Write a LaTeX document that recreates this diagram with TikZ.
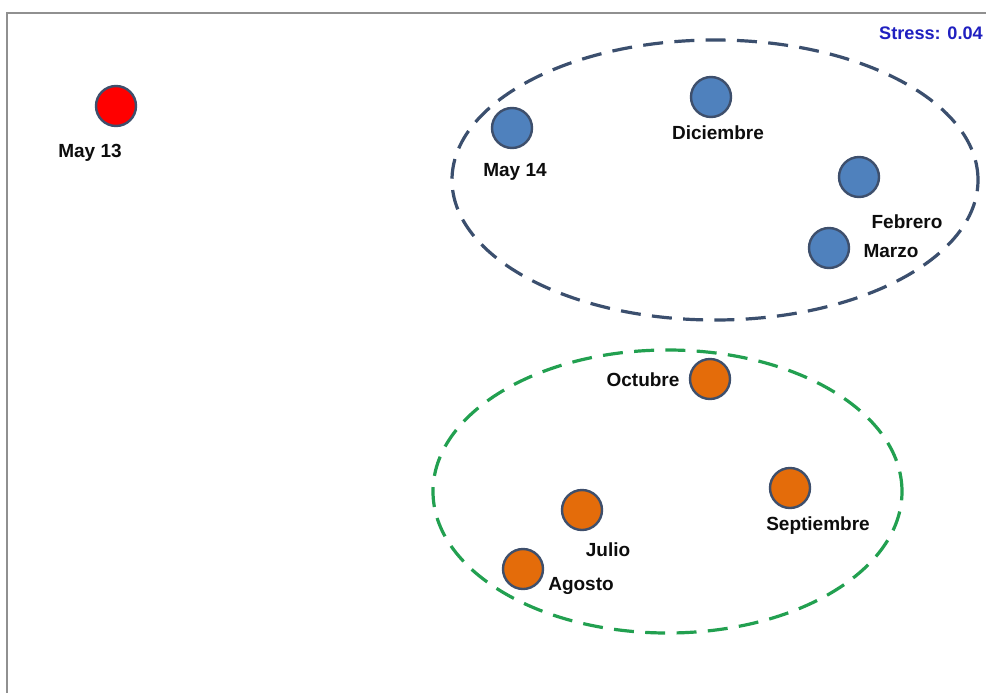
\documentclass[tikz,border=0pt]{standalone}
\usepackage{fontspec}
\setmainfont{Liberation Sans}
\usetikzlibrary{shapes.geometric}
\definecolor{ptblue}{HTML}{4F81BD}
\definecolor{ptorange}{HTML}{E46C0A}
\definecolor{ptred}{HTML}{FF0000}
\definecolor{ptedge}{HTML}{3E4F6C}
\definecolor{ringblue}{HTML}{3B4F6E}
\definecolor{ringgreen}{HTML}{22A050}
\definecolor{stressblue}{HTML}{2020C0}
\definecolor{framegray}{HTML}{909090}
\begin{document}
\begin{tikzpicture}[x=0.75pt,y=-0.75pt,
  pt/.style={circle,draw=ptedge,line width=1.8pt,minimum size=30pt,inner sep=0pt},
  lbl/.style={anchor=base,inner sep=0pt,font=\fontsize{14.25}{16}\selectfont\bfseries,text=black!95},
  ring/.style={ellipse,dashed,line width=2.4pt,dash pattern=on 15pt off 8.5pt,inner sep=0pt}]
\useasboundingbox (0,0) rectangle (986,693);
\fill[white] (0,0) rectangle (986,693);
\draw[framegray,line width=1.6pt] (7,693) -- (7,13) -- (986,13);
% clusters
\node[ring,draw=ringblue,minimum width=394.5pt,minimum height=210pt] (cblue) at (715,180) {};
\node[ring,draw=ringgreen,minimum width=351.75pt,minimum height=212.25pt] (cgreen) at (667.5,491.5) {};
% points
\node[pt,fill=ptred] (may13) at (116,106) {};
\node[pt,fill=ptblue] (may14) at (512,128) {};
\node[pt,fill=ptblue] (dic) at (711,97) {};
\node[pt,fill=ptblue] (feb) at (859,177) {};
\node[pt,fill=ptblue] (mar) at (829,248) {};
\node[pt,fill=ptorange] (oct) at (710,379) {};
\node[pt,fill=ptorange] (sep) at (790,488) {};
\node[pt,fill=ptorange] (jul) at (582,510) {};
\node[pt,fill=ptorange] (ago) at (523,569) {};
% labels
\node[lbl] (lmay13) at (90,157) {May 13};
\node[lbl] (lmay14) at (515,176) {May 14};
\node[lbl] (ldic) at (718,139) {Diciembre};
\node[lbl] (lfeb) at (907,228) {Febrero};
\node[lbl] (lmar) at (891,257) {Marzo};
\node[lbl] (loct) at (643,386) {Octubre};
\node[lbl] (lsep) at (818,530) {Septiembre};
\node[lbl] (ljul) at (608,556) {Julio};
\node[lbl] (lago) at (581,590) {Agosto};
\node[anchor=base east,inner sep=0pt,font=\fontsize{13.6}{15}\selectfont\bfseries,text=stressblue] (stress) at (983,39) {Stress: 0.04};
\end{tikzpicture}
\end{document}
